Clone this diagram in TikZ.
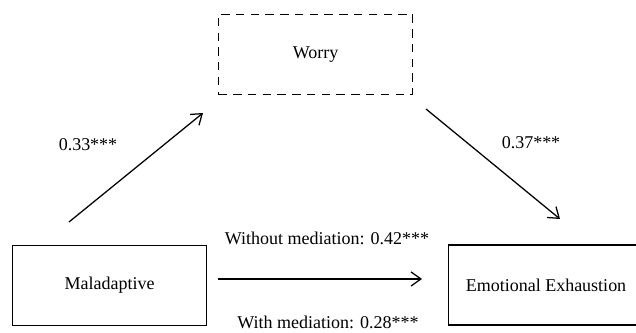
\documentclass[tikz,border=0pt]{standalone}
\usepackage{fontspec}
\setmainfont{Liberation Serif}
\usetikzlibrary{arrows.meta}

\begin{document}
\begin{tikzpicture}[
    font=\fontsize{12.8}{15}\selectfont,
    varbox/.style={draw, line width=0.9pt, minimum width=4.86cm, minimum height=2cm, inner sep=0pt},
    medbox/.style={varbox, dashed, dash pattern=on 6pt off 4.5pt},
    path/.style={line width=0.9pt, -{Straight Barb[length=7pt, width=10pt, line width=0.9pt]}}
  ]
  \useasboundingbox (0, 0) rectangle (15.9, 8.325);

  \node [medbox] (worry) at (7.89, 6.97) {Worry};
  \node [varbox] (mal) at (2.74, 1.19) {Maladaptive};
  \node [varbox] (exh) at (13.65, 1.2) {Emotional Exhaustion};

  \coordinate (a1s) at (1.725, 2.775);
  \coordinate (a1e) at (5.075, 5.5);
  \coordinate (a2s) at (10.65, 5.6);
  \coordinate (a2e) at (14.0, 2.85);
  \coordinate (a3s) at (5.45, 1.35);
  \coordinate (a3e) at (10.55, 1.35);

  \draw [path] (a1s) -- (a1e);
  \draw [path] (a2s) -- (a2e);
  \draw [path] (a3s) -- (a3e);

  \node (lab1) at (2.2, 4.7) {0.33***};
  \node (lab2) at (13.275, 4.75) {0.37***};
  \node (labdir) at (8.175, 2.375) {Without mediation: 0.42***};
  \node [anchor=base, inner sep=0pt] (labind) at (8.2, 0.1) {With mediation: 0.28***};
\end{tikzpicture}
\end{document}
